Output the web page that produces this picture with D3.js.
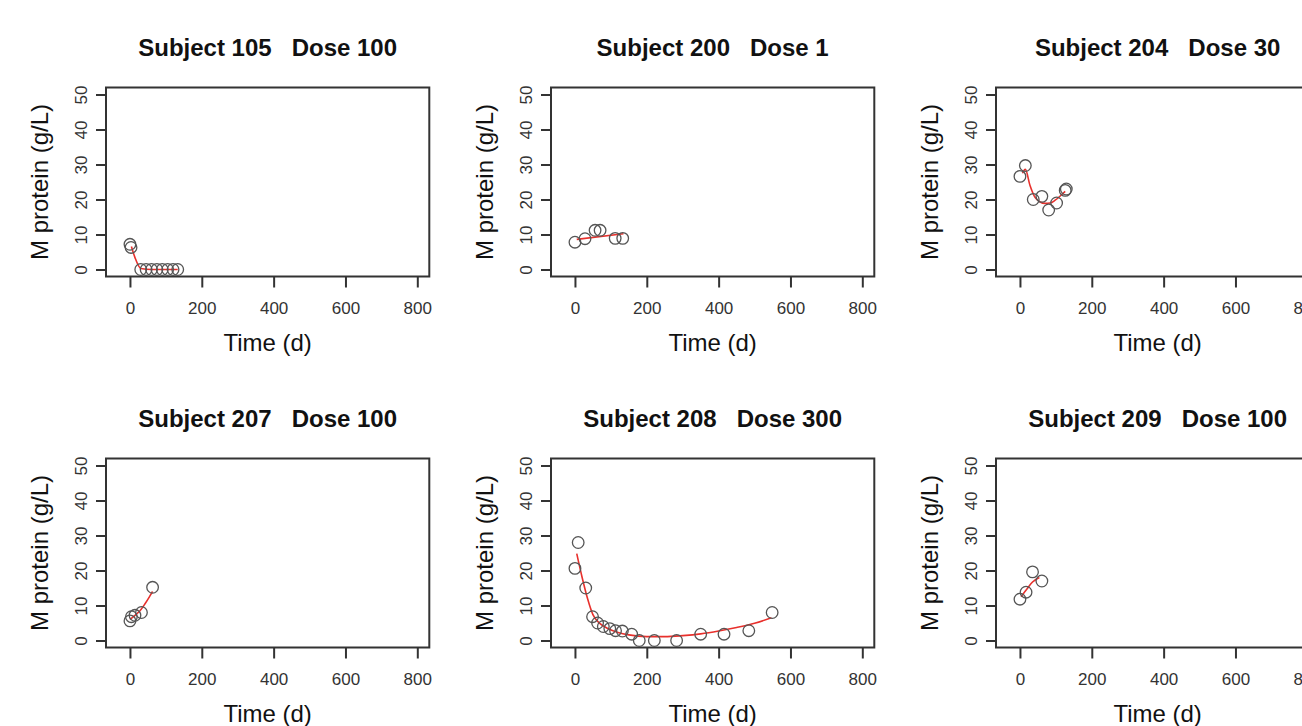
<!DOCTYPE html>
<html>
<head>
<meta charset="utf-8">
<script src="https://cdn.jsdelivr.net/npm/d3@7"></script>
<style>
  body { margin: 0; background: #fff; }
  svg { display: block; font-family: "Liberation Sans", Arial, sans-serif; }
  .title { font-weight: bold; font-size: 24px; fill: #111; white-space: pre; }
  .lab { font-size: 24px; fill: #111; }
  .tick text { font-size: 17px; fill: #333; }
</style>
</head>
<body>
<div id="chart"></div>
<script>
// data
const subjects = [105, 200, 204, 207, 208, 209];
const doses = [100, 1, 30, 100, 300, 100];

// observed M protein per subject
const obsTime = [
  [0, 3, 30, 45, 60, 75, 90, 105, 120, 133],
  [0, 28, 56, 70, 112, 133],
  [0, 15, 37, 61, 80, 102, 126, 129],
  [0, 4, 14, 32, 63],
  [0, 9, 30, 49, 63, 79, 97, 113, 132, 158, 179, 221, 283, 350, 415, 484, 549],
  [0, 17, 35, 61]
];
const obsM = [
  [7.2, 6.3, 0, 0, 0, 0, 0, 0, 0, 0],
  [7.8, 8.8, 11.2, 11.2, 8.9, 8.9],
  [26.6, 29.7, 20.0, 20.9, 17.0, 19.0, 22.6, 23.0],
  [5.6, 6.8, 7.2, 8.0, 15.2],
  [20.6, 28.0, 15.0, 6.8, 5.0, 4.0, 3.4, 2.8, 2.7, 1.8, 0, 0, 0, 1.8, 1.8, 2.8, 8.0],
  [11.8, 13.8, 19.6, 17.0]
];

// model fit (red line)
const fitTime = [
  [4, 14, 30, 60, 90, 120, 133],
  [5, 135],
  [7, 15, 28, 42, 56, 70, 84, 98, 112, 126],
  [0, 14, 28, 42, 56, 63],
  [5, 20, 35, 50, 70, 90, 120, 150, 200, 250, 300, 350, 400, 450, 500, 547],
  [3, 20, 35, 54]
];
const fitM = [
  [6.6, 3.4, 0.3, 0, 0, 0, 0],
  [8.6, 10.2],
  [27.5, 28.6, 24.0, 20.6, 19.3, 18.9, 19.0, 19.8, 21.0, 22.3],
  [6.0, 7.2, 8.5, 10.5, 12.8, 14.0],
  [24.8, 18.0, 12.0, 7.4, 4.8, 3.5, 2.3, 1.6, 1.1, 1.1, 1.4, 1.9, 2.7, 3.7, 4.9, 6.5],
  [12.5, 14.8, 16.7, 18.0]
];

const xTicks = [0, 200, 400, 600, 800];
const yTicks = [0, 10, 20, 30, 40, 50];

// layout
const W = 1302, H = 726;
const boxLeft = 106, colStep = 445, boxTop = 87.5, rowStep = 371;
const boxW = 323.3, boxH = 189;

const svg = d3.select('#chart').append('svg')
  .attr('width', W).attr('height', H)
  .style('overflow', 'hidden');

const x = d3.scaleLinear().domain([-66.7, 833.4]).range([0, boxW]);
const y = d3.scaleLinear().domain([-2, 52]).range([boxH, 0]);

const line = d3.line().x(d => x(d[0])).y(d => y(d[1])).curve(d3.curveMonotoneX);

subjects.forEach((s, i) => {
  const col = i % 3, row = Math.floor(i / 3);
  const g = svg.append('g')
    .attr('transform', `translate(${boxLeft + col * colStep},${boxTop + row * rowStep})`);

  // title
  g.append('text').attr('class', 'title')
    .attr('x', boxW / 2).attr('y', -32)
    .attr('text-anchor', 'middle')
    .text(`Subject ${s}   Dose ${doses[i]}`);

  // box
  g.append('rect')
    .attr('width', boxW).attr('height', boxH)
    .attr('fill', 'none').attr('stroke', '#333').attr('stroke-width', 2);

  // x axis
  const xa = g.append('g').attr('transform', `translate(0,${boxH})`)
    .call(d3.axisBottom(x).tickValues(xTicks).tickSize(11).tickSizeOuter(0).tickPadding(14));
  xa.select('.domain').remove();
  xa.selectAll('.tick line').attr('stroke', '#333').attr('stroke-width', 2);

  // y axis, labels rotated like R
  const ya = g.append('g')
    .call(d3.axisLeft(y).tickValues(yTicks).tickSize(10).tickSizeOuter(0));
  ya.select('.domain').remove();
  ya.selectAll('.tick line').attr('stroke', '#333').attr('stroke-width', 2);
  ya.selectAll('.tick text')
    .attr('x', null).attr('dy', '0.35em')
    .attr('text-anchor', 'middle')
    .attr('transform', 'translate(-24.5,0) rotate(-90)');

  // axis titles
  g.append('text').attr('class', 'lab')
    .attr('x', boxW / 2).attr('y', boxH + 74)
    .attr('text-anchor', 'middle')
    .text('Time (d)');
  g.append('text').attr('class', 'lab')
    .attr('transform', `translate(-66,${boxH / 2}) rotate(-90)`)
    .attr('text-anchor', 'middle').attr('dy', '0.35em')
    .text('M protein (g/L)');

  // fit line
  const fit = fitTime[i].map((t, k) => [t, fitM[i][k]]);
  g.append('path').datum(fit)
    .attr('d', line)
    .attr('fill', 'none').attr('stroke', '#e8302c').attr('stroke-width', 1.6);

  // observations
  g.selectAll('circle.obs')
    .data(obsTime[i].map((t, k) => [t, obsM[i][k]]))
    .join('circle').attr('class', 'obs')
    .attr('cx', d => x(d[0])).attr('cy', d => y(d[1]))
    .attr('r', 5.8)
    .attr('fill', 'none').attr('stroke', '#555').attr('stroke-width', 1.3);
});
</script>
</body>
</html>
